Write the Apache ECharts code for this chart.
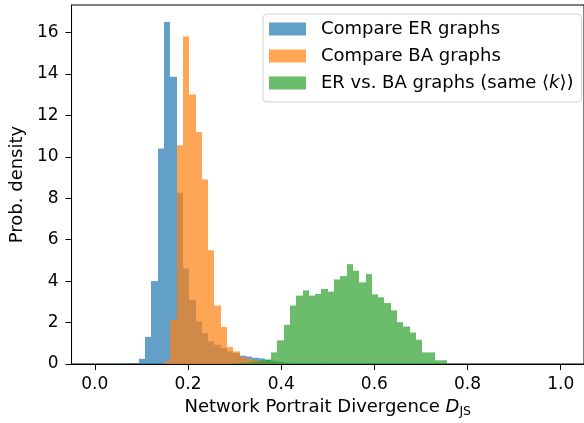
<!DOCTYPE html>
<html>
<head>
<meta charset="utf-8">
<script src="https://cdn.jsdelivr.net/npm/echarts@6/dist/echarts.min.js"></script>
<style>
  html, body { margin: 0; padding: 0; background: #fff; }
  #chart { width: 584px; height: 423px; }
</style>
</head>
<body>
<div id="chart"></div>
<script>
// histogram: 74 equal bins over [0, 1]
const binWidth = 1 / 74
const xTicks = [0, 0.2, 0.4, 0.6, 0.8, 1.0]
const yTicks = [0, 2, 4, 6, 8, 10, 12, 14, 16]

// index of first bin, then density bin by bin
const erFirstBin = 4
const erDensity = [0.03, 0.03, 0.04, 0.25, 1.31, 4.0, 10.4, 16.5, 13.86, 8.26, 4.61, 3.09, 2.05, 1.49, 1.09,
  0.93, 0.77, 0.61, 0.53, 0.40, 0.36, 0.30, 0.27, 0.20, 0.14, 0.10, 0.07, 0.05, 0.04, 0.03, 0.02]

const baFirstBin = 11
const baDensity = [0.13, 2.13, 10.56, 15.8, 13.0, 11.2, 8.9, 5.49, 2.82, 1.79, 0.82, 0.61, 0.33, 0.25,
  0.18, 0.13, 0.10, 0.07, 0.05, 0.04, 0.03, 0.02]

const erBaFirstBin = 22
const erBaDensity = [0.03, 0.05, 0.08, 0.12, 0.17, 0.22, 0.56, 1.14, 1.89, 2.82, 3.30, 3.55, 3.30, 3.38,
  3.62, 3.49, 4.08, 4.24, 4.82, 4.50, 3.94, 4.34, 3.36, 3.22, 2.94, 2.59, 2.02, 1.81, 1.52, 1.17,
  0.56, 0.56, 0.18, 0.18]

const colors = ['rgba(31,119,180,0.7)', 'rgba(255,127,14,0.7)', 'rgba(44,160,44,0.7)']
const font = 'DejaVu Sans'

// [left edge, right edge, density]
const toBins = (first, dens) => dens.map((d, i) => [(first + i) * binWidth, (first + i + 1) * binWidth, d])

// edges snapped to whole pixels so neighbouring bars leave no seam
const renderBar = (color) => (params, api) => {
  const p0 = api.coord([api.value(0), api.value(2)])
  const p1 = api.coord([api.value(1), 0])
  const x0 = Math.round(p0[0])
  const x1 = Math.round(p1[0])
  return {
    type: 'rect',
    shape: { x: x0, y: p0[1], width: x1 - x0, height: p1[1] - p0[1] },
    style: { fill: color }
  }
}

const histSeries = (name, data, index) => ({
  name: name,
  type: 'custom',
  renderItem: renderBar(colors[index]),
  itemStyle: { color: colors[index] },
  encode: { x: [0, 1], y: 2 },
  data: data,
  z: 2 + index
})

const myChart = echarts.init(document.getElementById('chart'))
const option = {
  animation: false,
  textStyle: { fontFamily: font },
  grid: {
    left: 71.5,
    top: 5,
    width: 518,
    height: 361,
    show: true,
    borderColor: '#000',
    borderWidth: 1
  },
  legend: {
    orient: 'vertical',
    left: 263,
    top: 14,
    padding: [6, 8, 10, 6],
    itemWidth: 37,
    itemHeight: 13,
    itemGap: 9,
    icon: 'rect',
    backgroundColor: 'rgba(255,255,255,0.8)',
    borderColor: '#d0d0d0',
    borderWidth: 1,
    borderRadius: 4,
    formatter: (name) => {
      if (name.indexOf('⟨') < 0) return '{n|' + name + '}'
      return '{n|ER vs. BA graphs (same ⟨}{i|k}{n|⟩)}'
    },
    textStyle: {
      padding: [0, 0, 0, 10],
      rich: {
        n: { fontFamily: font, fontSize: 18, lineHeight: 18, color: '#000' },
        i: { fontFamily: font, fontSize: 18, lineHeight: 18, fontStyle: 'italic', color: '#000' }
      }
    }
  },
  xAxis: {
    type: 'value',
    min: -0.05,
    max: 1.05,
    name: '{a|Network Portrait Divergence }{d|D}{s|JS}',
    nameLocation: 'middle',
    nameGap: 32,
    nameTextStyle: {
      rich: {
        a: { fontFamily: font, fontSize: 18, color: '#000' },
        d: { fontFamily: font, fontSize: 18, fontStyle: 'italic', color: '#000' },
        s: { fontFamily: font, fontSize: 12.5, color: '#000', padding: [9, 0, 0, 0] }
      }
    },
    axisLine: { show: true, onZero: false, lineStyle: { color: '#000', width: 1 } },
    axisTick: { show: true, length: 6, customValues: xTicks, lineStyle: { color: '#000' } },
    axisLabel: {
      customValues: xTicks,
      formatter: (v) => v.toFixed(1),
      margin: 12,
      fontSize: 17,
      color: '#000'
    },
    splitLine: { show: false }
  },
  yAxis: {
    type: 'value',
    min: 0,
    max: 17.325,
    name: 'Prob. density',
    nameLocation: 'middle',
    nameGap: 43,
    nameTextStyle: { fontSize: 18, color: '#000' },
    axisLine: { show: true, onZero: false, lineStyle: { color: '#000', width: 1 } },
    axisTick: { show: true, length: 6, customValues: yTicks, lineStyle: { color: '#000' } },
    axisLabel: {
      customValues: yTicks,
      margin: 13,
      fontSize: 17,
      color: '#000'
    },
    splitLine: { show: false }
  },
  series: [
    histSeries('Compare ER graphs', toBins(erFirstBin, erDensity), 0),
    histSeries('Compare BA graphs', toBins(baFirstBin, baDensity), 1),
    histSeries('ER vs. BA graphs (same ⟨k⟩)', toBins(erBaFirstBin, erBaDensity), 2)
  ]
}
myChart.setOption(option)
</script>
</body>
</html>
